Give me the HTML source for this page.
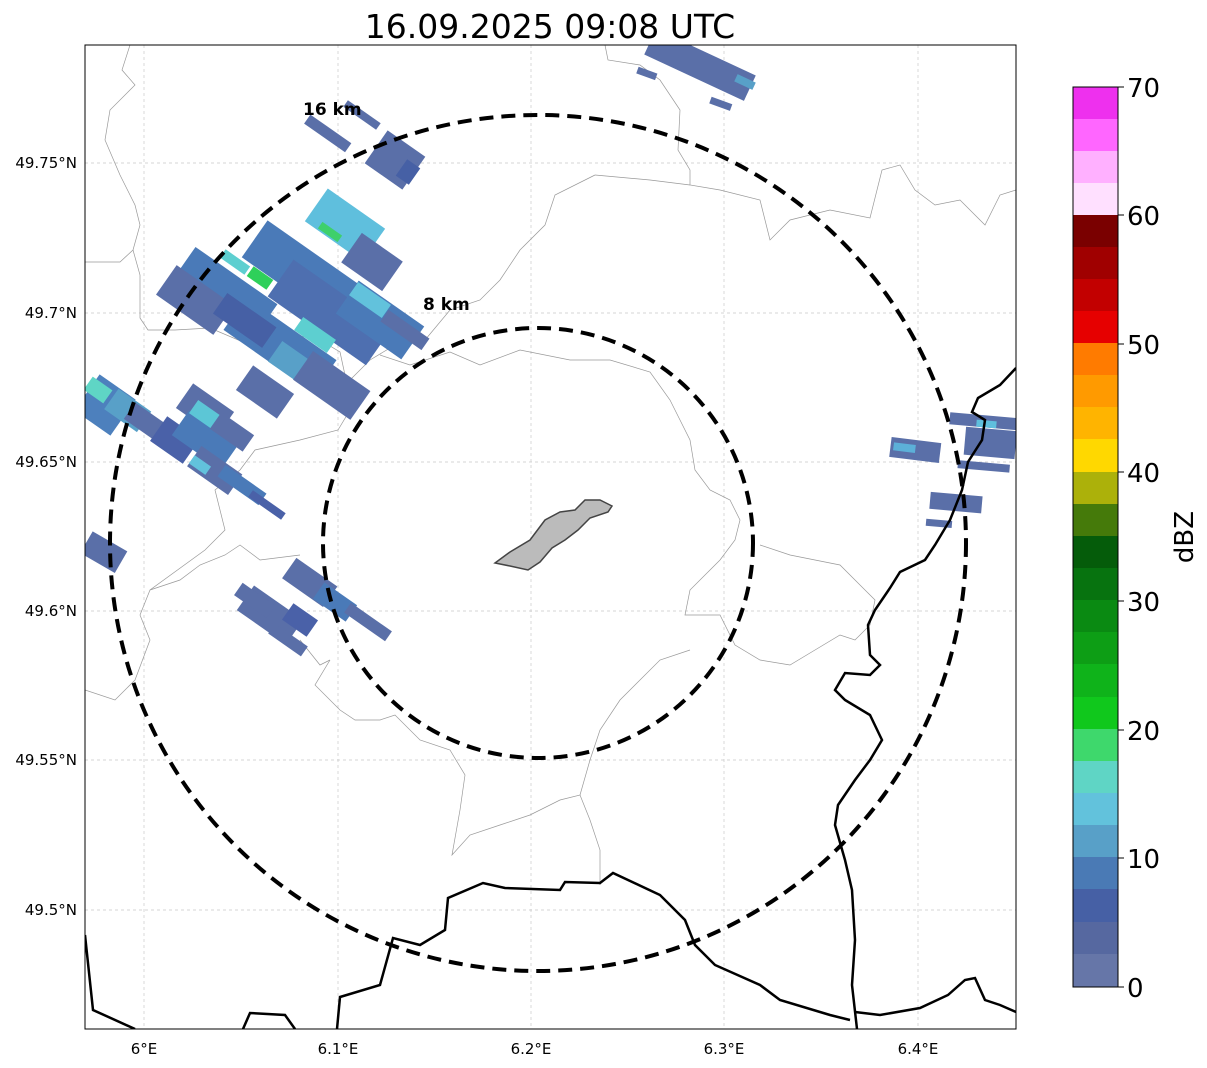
<!DOCTYPE html>
<html><head><meta charset="utf-8"><style>
body{margin:0;background:#fff;width:1207px;height:1064px;overflow:hidden;font-family:"DejaVu Sans","Liberation Sans",sans-serif;}
</style></head><body>
<svg width="1207" height="1064" viewBox="0 0 1207 1064" xmlns="http://www.w3.org/2000/svg" font-family="DejaVu Sans, Liberation Sans, sans-serif">
<defs><clipPath id="c"><rect x="85" y="45" width="931" height="984"/></clipPath></defs>
<text x="550" y="38" font-size="33" text-anchor="middle">16.09.2025 09:08 UTC</text>
<g clip-path="url(#c)">
<g stroke="#c8c8c8" stroke-width="0.7" stroke-dasharray="3,3">
<line x1="144" y1="45" x2="144" y2="1029"/><line x1="338" y1="45" x2="338" y2="1029"/><line x1="531" y1="45" x2="531" y2="1029"/><line x1="724" y1="45" x2="724" y2="1029"/><line x1="918" y1="45" x2="918" y2="1029"/>
<line x1="85" y1="163" x2="1016" y2="163"/><line x1="85" y1="313" x2="1016" y2="313"/><line x1="85" y1="462" x2="1016" y2="462"/><line x1="85" y1="611" x2="1016" y2="611"/><line x1="85" y1="760" x2="1016" y2="760"/><line x1="85" y1="910" x2="1016" y2="910"/>
</g>
<g fill="none" stroke="#999" stroke-width="0.7">
<path d="M130,45 L122,70 L135,85 L110,110 L105,140 L120,175 L135,205 L140,225 L133,250 L120,262 L85,262"/>
<path d="M133,250 L140,275 L140,318 L148,330 L175,330 L210,328 L250,345 L280,332 L320,340 L340,352 L345,375 L350,410 L338,430 L300,440 L255,450 L240,470 L215,490 L225,530 L205,550 L150,590 L140,615 L150,640 L135,680 L115,700 L85,690"/>
<path d="M605,45 L608,60 L640,65 L660,80 L680,110 L678,150 L690,170 L690,185 L720,190 L760,200 L770,240 L790,220 L830,210 L870,218 L882,170 L900,165 L915,190 L935,205 L960,200 L985,225 L1000,195 L1016,190"/>
<path d="M595,175 L650,180 L690,185"/>
<path d="M595,175 L555,195 L545,225 L520,250 L500,280 L480,300 L450,310 L425,340 L395,345 L370,360 L350,380"/>
<path d="M380,355 L410,365 L450,352 L480,365 L520,350 L570,360 L610,360 L650,372 L670,400 L680,420 L690,440 L695,470 L710,490 L730,500 L740,520 L735,540 L720,560 L700,580 L690,590 L685,615 L720,615 L735,645 L760,660 L790,665 L815,650 L840,635 L855,640 L870,625 L875,600 L860,585 L840,565 L790,555 L760,545"/>
<path d="M150,590 L180,580 L200,565 L225,555 L240,545 L260,560 L300,555"/>
<path d="M330,660 L315,685 L340,710 L355,720 L380,720 L395,715 L420,740 L450,750 L465,775 L460,810 L452,855 L470,835 L500,825 L530,815 L560,800 L580,795 L590,820 L600,850 L600,885"/>
<path d="M580,795 L590,760 L600,730 L620,700 L640,680 L660,660 L690,650"/>
<path d="M300,640 L320,665 L330,660"/>
</g>
<g>
<g transform="translate(345,225) rotate(35)"><rect x="-35" y="-20" width="70" height="40" fill="#5fbfdd"/></g>
<g transform="translate(372,262) rotate(35)"><rect x="-25" y="-18" width="50" height="36" fill="#5a6fa8"/></g>
<g transform="translate(300,270) rotate(35)"><rect x="-55" y="-22" width="110" height="45" fill="#4a7ab8"/></g>
<g transform="translate(225,292) rotate(35)"><rect x="-50" y="-20" width="100" height="40" fill="#4a7ab8"/></g>
<g transform="translate(195,300) rotate(35)"><rect x="-35" y="-18" width="70" height="36" fill="#5a6fa8"/></g>
<g transform="translate(330,312) rotate(35)"><rect x="-60" y="-22" width="120" height="45" fill="#4e6fb0"/></g>
<g transform="translate(380,320) rotate(35)"><rect x="-40" y="-20" width="80" height="40" fill="#4a7ab8"/></g>
<g transform="translate(370,300) rotate(35)"><rect x="-20" y="-8" width="40" height="16" fill="#62c2dc"/></g>
<g transform="translate(405,330) rotate(35)"><rect x="-25" y="-7" width="50" height="14" fill="#5a6fa8"/></g>
<g transform="translate(280,345) rotate(35)"><rect x="-55" y="-20" width="110" height="40" fill="#4a7ab8"/></g>
<g transform="translate(245,320) rotate(35)"><rect x="-30" y="-12" width="60" height="25" fill="#4660a5"/></g>
<g transform="translate(315,335) rotate(35)"><rect x="-20" y="-8" width="40" height="16" fill="#5dcfd0"/></g>
<g transform="translate(300,368) rotate(35)"><rect x="-30" y="-12" width="60" height="25" fill="#58a0c8"/></g>
<g transform="translate(332,385) rotate(35)"><rect x="-35" y="-17" width="70" height="35" fill="#5a6fa8"/></g>
<g transform="translate(265,392) rotate(35)"><rect x="-25" y="-15" width="50" height="30" fill="#5a6fa8"/></g>
<g transform="translate(330,232) rotate(35)"><rect x="-12" y="-4" width="24" height="8" fill="#3ed06b"/></g>
<g transform="translate(260,278) rotate(35)"><rect x="-12" y="-6" width="24" height="12" fill="#2ed05a"/></g>
<g transform="translate(235,262) rotate(35)"><rect x="-15" y="-5" width="30" height="10" fill="#5dcfd0"/></g>
<g transform="translate(105,405) rotate(35)"><rect x="-22" y="-22" width="44" height="44" fill="#4d80bd"/></g>
<g transform="translate(98,390) rotate(35)"><rect x="-12" y="-8" width="24" height="16" fill="#5fd5c5"/></g>
<g transform="translate(128,410) rotate(35)"><rect x="-20" y="-12" width="40" height="25" fill="#58a0c8"/></g>
<g transform="translate(150,425) rotate(35)"><rect x="-25" y="-10" width="50" height="20" fill="#5a6fa8"/></g>
<g transform="translate(175,440) rotate(35)"><rect x="-20" y="-15" width="40" height="30" fill="#4a61a8"/></g>
<g transform="translate(205,410) rotate(35)"><rect x="-25" y="-15" width="50" height="30" fill="#5a6fa8"/></g>
<g transform="translate(205,440) rotate(35)"><rect x="-30" y="-15" width="60" height="30" fill="#4a7ab8"/></g>
<g transform="translate(210,418) rotate(35)"><rect x="-20" y="-8" width="40" height="16" fill="#5cc6d6"/></g>
<g transform="translate(232,432) rotate(35)"><rect x="-20" y="-10" width="40" height="20" fill="#5a6fa8"/></g>
<g transform="translate(215,470) rotate(35)"><rect x="-25" y="-12" width="50" height="25" fill="#5a6fa8"/></g>
<g transform="translate(200,465) rotate(35)"><rect x="-10" y="-5" width="20" height="10" fill="#62c2dc"/></g>
<g transform="translate(242,485) rotate(35)"><rect x="-25" y="-7" width="50" height="14" fill="#4a7ab8"/></g>
<g transform="translate(267,505) rotate(35)"><rect x="-20" y="-4" width="40" height="8" fill="#4a61a8"/></g>
<g transform="translate(270,615) rotate(35)"><rect x="-30" y="-15" width="60" height="30" fill="#5a6fa8"/></g>
<g transform="translate(310,582) rotate(35)"><rect x="-25" y="-12" width="50" height="25" fill="#5a6fa8"/></g>
<g transform="translate(335,602) rotate(35)"><rect x="-20" y="-10" width="40" height="20" fill="#4a7ab8"/></g>
<g transform="translate(368,622) rotate(35)"><rect x="-25" y="-6" width="50" height="12" fill="#5a6fa8"/></g>
<g transform="translate(255,600) rotate(35)"><rect x="-20" y="-7" width="40" height="15" fill="#5a6fa8"/></g>
<g transform="translate(288,640) rotate(35)"><rect x="-20" y="-6" width="40" height="12" fill="#5a6fa8"/></g>
<g transform="translate(300,620) rotate(35)"><rect x="-15" y="-10" width="30" height="20" fill="#4a61a8"/></g>
<g transform="translate(395,160) rotate(35)"><rect x="-23" y="-20" width="46" height="40" fill="#5a6fa8"/></g>
<g transform="translate(408,172) rotate(35)"><rect x="-8" y="-10" width="16" height="20" fill="#4660a5"/></g>
<g transform="translate(362,115) rotate(35)"><rect x="-20" y="-4" width="40" height="8" fill="#5a6fa8"/></g>
<g transform="translate(328,133) rotate(35)"><rect x="-25" y="-5" width="50" height="11" fill="#5a6fa8"/></g>
<g transform="translate(700,65) rotate(25)"><rect x="-55" y="-14" width="110" height="28" fill="#5a6fa8"/></g>
<g transform="translate(745,82) rotate(25)"><rect x="-10" y="-4" width="20" height="8" fill="#58a0c8"/></g>
<rect x="637" y="70" width="20" height="7" fill="#5a6fa8" transform="rotate(20 647 73)"/>
<rect x="710" y="100" width="22" height="7" fill="#5a6fa8" transform="rotate(20 720 103)"/>
<rect x="85" y="540" width="40" height="25" fill="#5a6fa8" transform="rotate(30 105 550)"/>
<g transform="rotate(7 915 452)"><rect x="890" y="440" width="50" height="20" fill="#5a6fa8"/><rect x="893" y="445" width="22" height="8" fill="#5cb0d8"/></g>
<g transform="rotate(5 980 440)"><rect x="948" y="415" width="68" height="12" fill="#5a6fa8"/><rect x="965" y="428" width="51" height="28" fill="#5a6fa8"/><rect x="975" y="420" width="20" height="7" fill="#5fbfdd"/><rect x="960" y="462" width="52" height="8" fill="#5a6fa8"/></g>
<rect x="930" y="494" width="52" height="17" fill="#5a6fa8" transform="rotate(5 955 502)"/>
<rect x="926" y="520" width="26" height="7" fill="#5a6fa8" transform="rotate(5 940 523)"/>
</g>
<g fill="none" stroke="#000" stroke-width="2.5">
<path d="M1016,368 L1000,385 L978,398 L972,412 L985,420 L982,440 L968,462 L962,490 L950,520 L935,545 L925,560 L900,572 L890,588 L875,610 L868,625 L870,655 L880,665 L870,675 L845,673 L835,690 L845,700 L870,715 L882,740 L870,760 L855,780 L838,805 L835,825 L845,860 L852,890 L855,940 L852,985 L857,1029"/>
<path d="M85,935 L93,1010 L135,1029"/>
<path d="M243,1029 L250,1013 L285,1015 L295,1029"/>
<path d="M337,1029 L340,997 L380,985 L393,938 L420,945 L445,930 L448,898 L483,883 L505,888 L560,890 L565,882 L600,883 L613,873 L660,895 L685,920 L695,945 L715,965 L760,985 L780,1000 L830,1015 L850,1020"/>
<path d="M855,1012 L880,1015 L920,1008 L948,995 L965,980 L975,978 L985,1000 L1000,1005 L1016,1012"/>
</g>
<path d="M495,563 L510,552 L530,540 L545,520 L560,512 L575,510 L585,500 L600,500 L612,506 L608,512 L590,518 L578,530 L565,540 L552,548 L540,562 L528,570 L510,566 Z" fill="#bbb" stroke="#444" stroke-width="1.5"/>
<g fill="none" stroke="#000" stroke-width="4" stroke-dasharray="14,8">
<circle cx="538" cy="543" r="428"/>
<circle cx="538" cy="543" r="215"/>
</g>
<text x="303" y="115" font-size="17" font-weight="bold">16 km</text>
<text x="423" y="310" font-size="17" font-weight="bold">8 km</text>
</g>
<rect x="85" y="45" width="931" height="984" fill="none" stroke="#000" stroke-width="1"/>
<g font-size="15" fill="#000">
<g text-anchor="end">
<text x="77" y="168">49.75°N</text><text x="77" y="318">49.7°N</text><text x="77" y="467">49.65°N</text><text x="77" y="616">49.6°N</text><text x="77" y="765">49.55°N</text><text x="77" y="915">49.5°N</text>
</g>
<g text-anchor="middle">
<text x="144" y="1054">6°E</text><text x="338" y="1054">6.1°E</text><text x="531" y="1054">6.2°E</text><text x="724" y="1054">6.3°E</text><text x="918" y="1054">6.4°E</text>
</g>
</g>
<g>
<rect x="1073" y="87" width="45" height="33" fill="#ee30ee"/>
<rect x="1073" y="119" width="45" height="33" fill="#ff66ff"/>
<rect x="1073" y="151" width="45" height="33" fill="#ffb0ff"/>
<rect x="1073" y="183" width="45" height="33" fill="#ffe0ff"/>
<rect x="1073" y="215" width="45" height="33" fill="#7a0000"/>
<rect x="1073" y="247" width="45" height="33" fill="#a00000"/>
<rect x="1073" y="279" width="45" height="33" fill="#c20000"/>
<rect x="1073" y="311" width="45" height="33" fill="#e60000"/>
<rect x="1073" y="343" width="45" height="33" fill="#ff7b00"/>
<rect x="1073" y="375" width="45" height="33" fill="#ff9a00"/>
<rect x="1073" y="407" width="45" height="33" fill="#ffb400"/>
<rect x="1073" y="439" width="45" height="34" fill="#ffd800"/>
<rect x="1073" y="472" width="45" height="33" fill="#acb10a"/>
<rect x="1073" y="504" width="45" height="33" fill="#457a0a"/>
<rect x="1073" y="536" width="45" height="33" fill="#055c0a"/>
<rect x="1073" y="568" width="45" height="33" fill="#07730f"/>
<rect x="1073" y="600" width="45" height="33" fill="#0a8a12"/>
<rect x="1073" y="632" width="45" height="33" fill="#0d9e15"/>
<rect x="1073" y="664" width="45" height="34" fill="#0fb31a"/>
<rect x="1073" y="697" width="45" height="33" fill="#10c81c"/>
<rect x="1073" y="729" width="45" height="33" fill="#3ed86c"/>
<rect x="1073" y="761" width="45" height="33" fill="#5fd5c5"/>
<rect x="1073" y="793" width="45" height="33" fill="#62c2dc"/>
<rect x="1073" y="825" width="45" height="33" fill="#58a0c8"/>
<rect x="1073" y="857" width="45" height="33" fill="#4a7ab5"/>
<rect x="1073" y="889" width="45" height="34" fill="#4660a5"/>
<rect x="1073" y="922" width="45" height="33" fill="#5668a0"/>
<rect x="1073" y="954" width="45" height="33" fill="#6676a8"/>
<rect x="1073" y="87" width="45" height="900" fill="none" stroke="#000" stroke-width="1"/>
<g stroke="#000" stroke-width="1">
<line x1="1118" y1="87" x2="1124" y2="87"/><line x1="1118" y1="215" x2="1124" y2="215"/><line x1="1118" y1="344" x2="1124" y2="344"/><line x1="1118" y1="472" x2="1124" y2="472"/><line x1="1118" y1="601" x2="1124" y2="601"/><line x1="1118" y1="730" x2="1124" y2="730"/><line x1="1118" y1="858" x2="1124" y2="858"/><line x1="1118" y1="987" x2="1124" y2="987"/>
</g>
<g font-size="26">
<text x="1127" y="97">70</text><text x="1127" y="225">60</text><text x="1127" y="354">50</text><text x="1127" y="482">40</text><text x="1127" y="611">30</text><text x="1127" y="740">20</text><text x="1127" y="868">10</text><text x="1127" y="997">0</text>
</g>
<text x="1193" y="537" font-size="26" text-anchor="middle" transform="rotate(-90 1193 537)">dBZ</text>
</g>
</svg>
</body></html>
